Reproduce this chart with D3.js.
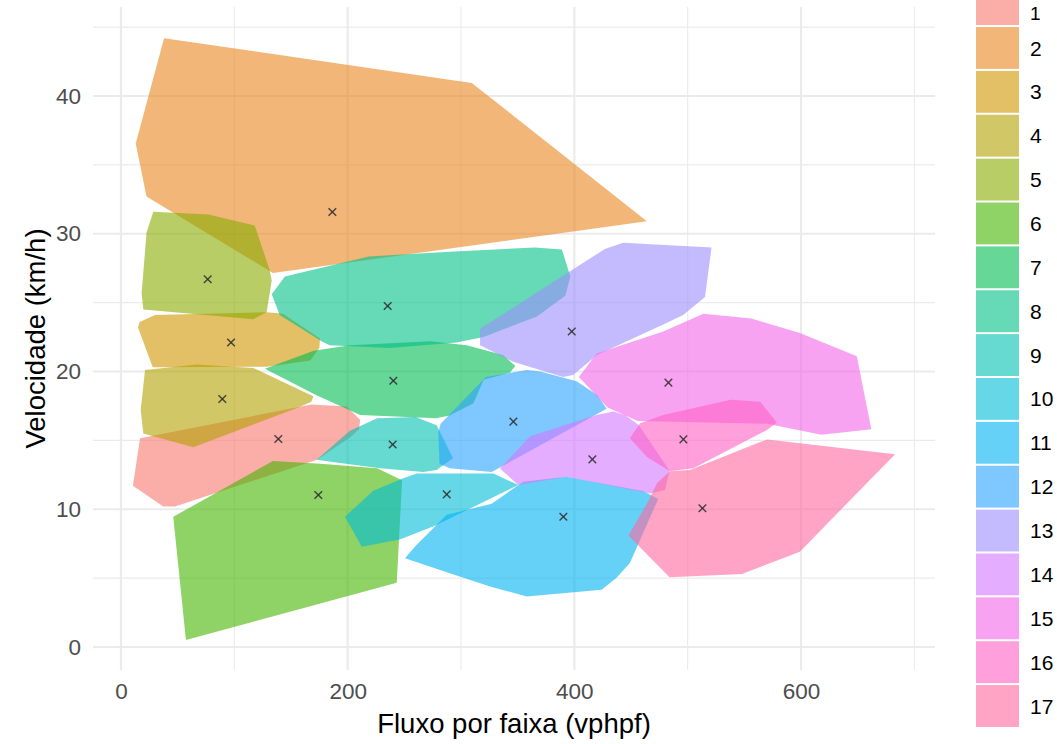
<!DOCTYPE html>
<html>
<head>
<meta charset="utf-8">
<script src="https://cdn.jsdelivr.net/npm/d3@7"></script>
<style>
  html, body { margin: 0; padding: 0; background: #ffffff; }
  svg { display: block; font-family: "Liberation Sans", Arial, Helvetica, sans-serif; }
</style>
</head>
<body>
<svg id="chart" width="1057" height="744"></svg>
<script>
// Cluster labels
const clusters = ["1","2","3","4","5","6","7","8","9","10","11","12","13","14","15","16","17"];

// Convex hull vertices for each cluster: [fluxo (vphpf), velocidade (km/h)]
const hull_1  = [[16.8,15.15],[168,17.6],[199,17.45],[211,16.5],[210,15.8],[202,15.2],[173,13.6],[47.6,10.2],[37.3,10.2],[10.5,11.7]];
const hull_2  = [[38,44.2],[309.5,40.95],[464,30.9],[134,27.15],[22.5,32.7],[13,36.55]];
const hull_3  = [[16.5,23.6],[30,24.1],[128.5,24.3],[143,24.2],[175.6,22.4],[175,21.7],[167,20.8],[128.5,20.35],[28,20.3],[15,23.2]];
const hull_4  = [[21.2,20.1],[66.8,20.5],[116.8,20.25],[169.7,18.2],[168,17.8],[157,17.4],[63.8,14.5],[19.7,15.5],[17.4,17.2]];
const hull_5  = [[28.5,31.6],[77,31.4],[118,30.6],[131,27.4],[133,26.6],[128.5,24.3],[116.8,23.8],[19.7,24.5],[18.2,25.7],[22.6,30.1]];
const hull_6  = [[46.1,9.45],[134,13.5],[176,13.3],[226,12.97],[248,12.1],[243.3,4.67],[57.3,0.5]];
const hull_7  = [[127,20.2],[170,21.5],[202,21.9],[273,22.2],[305,21.9],[337,21.2],[348,20.4],[343,19.9],[320,19.4],[311,17.7],[290,16.8],[278,16.6],[211,16.85],[172,18.3]];
const hull_8  = [[133,25.6],[144.6,26.9],[218.5,28.35],[290,28.7],[365,29.0],[389,28.85],[396.5,26.9],[392,25.5],[367,24],[320,22.5],[296,22.1],[237,21.7],[184,21.9],[177,22.2],[140,24.1]];
const hull_9  = [[172.6,13.6],[202,15.7],[226,16.6],[260,16.7],[278.5,16.1],[293,13.7],[278.5,12.85],[266.7,12.7],[228.5,12.97],[190,13.4]];
const hull_10 = [[197.6,9.45],[222.6,11.35],[249,12.25],[261,12.6],[328.5,12.6],[350.6,11.76],[277,8.8],[246,7.8],[212.4,7.28]];
const hull_11 = [[250.6,6.44],[259.4,7.3],[287.4,9.6],[327,10.4],[355,12.0],[393,12.35],[461,11.3],[474,10.75],[449,6.1],[437,5.0],[424,4.15],[358,3.66],[325.6,4.4],[290,5.35]];
const hull_12 = [[282,16.2],[322,19.6],[358,20.1],[370,20.0],[402,19.3],[420,18.3],[428.5,17.3],[327,12.7],[290,12.97],[281,13.3],[280,15.6]];
const hull_13 = [[316.8,23.1],[427,28.9],[443,29.35],[521,29.0],[515.3,25.4],[496,24.1],[478,23.4],[420,21.2],[399,19.75],[390,19.6],[346,20.7],[316.8,21.9]];
const hull_14 = [[334.4,12.96],[361,15.3],[419.7,16.84],[434.4,17.1],[444.7,16.84],[457,16.1],[484,12.8],[480,11.4],[466.8,11.15],[393,12.36],[350.6,11.76]];
const hull_15 = [[404,19.6],[419.7,21.3],[478.5,22.9],[513.8,24.2],[556,23.85],[599,22.8],[649.2,21.1],[662,15.8],[618,15.4],[570,16.2],[456,16.4],[429,17.4]];
const hull_16 = [[449,15.15],[458,16.24],[478.5,16.84],[538,17.95],[564,17.8],[578.6,16.3],[570,15.75],[505,12.97],[484.4,12.75],[464,13.8]];
const hull_17 = [[447.7,8.1],[464,10.4],[473,11.9],[484.4,12.75],[502,12.85],[570,15.07],[683,14.0],[599,6.92],[548,5.3],[484,5.06]];

// Cluster centres
const centroidFluxo      = [138.8,186.5,97.1,89.4,76.5,174.1,240.3,235.3,239.7,287.4,390.3,346.2,397.7,415.9,483,496.2,513];
const centroidVelocidade = [15.1,31.58,22.1,18.0,26.7,11.03,19.33,24.75,14.7,11.08,9.46,16.36,22.9,13.62,19.19,15.07,10.07];

// Axis ticks
const xTicks = [0, 200, 400, 600];
const yTicks = [0, 10, 20, 30, 40];
const xMinor = [100, 300, 500, 700];
const yMinor = [5, 15, 25, 35, 45];

const hulls = [hull_1,hull_2,hull_3,hull_4,hull_5,hull_6,hull_7,hull_8,hull_9,hull_10,hull_11,hull_12,hull_13,hull_14,hull_15,hull_16,hull_17];

// Polar LUV -> sRGB, same construction as the usual default hue palette
function hclLuv(h, c, l) {
  const Xn = 95.047, Yn = 100, Zn = 108.883;
  const hr = h * Math.PI / 180;
  const U = c * Math.cos(hr), V = c * Math.sin(hr);
  const Y = l > 7.999592 ? Yn * Math.pow((l + 16) / 116, 3) : Yn * l / 903.3;
  const den = Xn + 15 * Yn + 3 * Zn;
  const un = 4 * Xn / den, vn = 9 * Yn / den;
  const u = U / (13 * l) + un, v = V / (13 * l) + vn;
  const X = 9 * Y * u / (4 * v);
  const Z = -X / 3 - 5 * Y + 3 * Y / v;
  const x = X / 100, y = Y / 100, z = Z / 100;
  const lin = [
    3.240479 * x - 1.537150 * y - 0.498535 * z,
   -0.969256 * x + 1.875992 * y + 0.041556 * z,
    0.055648 * x - 0.204043 * y + 1.057311 * z
  ];
  const g = t => {
    const s = t <= 0.0031308 ? 12.92 * t : 1.055 * Math.pow(t, 1 / 2.4) - 0.055;
    return Math.round(255 * Math.max(0, Math.min(1, s)));
  };
  return d3.rgb(g(lin[0]), g(lin[1]), g(lin[2])).formatHex();
}
const n = clusters.length;
const palette = clusters.map((d, i) => hclLuv(15 + 360 * i / n, 100, 65));
const color = d3.scaleOrdinal().domain(clusters).range(palette);
const fillAlpha = 0.6;

const svg = d3.select("#chart");
const panel = { left: 93, right: 935, top: 7, bottom: 670 };

const x = d3.scaleLinear().domain([-24.7, 718.2]).range([panel.left, panel.right]);
const y = d3.scaleLinear().domain([-1.67, 46.46]).range([panel.bottom, panel.top]);

// Grid
const grid = svg.append("g");
grid.selectAll(".xminor").data(xMinor).join("line")
  .attr("x1", d => x(d)).attr("x2", d => x(d))
  .attr("y1", panel.top).attr("y2", panel.bottom)
  .attr("stroke", "#ebebeb").attr("stroke-width", 1.1);
grid.selectAll(".yminor").data(yMinor).join("line")
  .attr("y1", d => y(d)).attr("y2", d => y(d))
  .attr("x1", panel.left).attr("x2", panel.right)
  .attr("stroke", "#ebebeb").attr("stroke-width", 1.1);
grid.selectAll(".xmajor").data(xTicks).join("line")
  .attr("x1", d => x(d)).attr("x2", d => x(d))
  .attr("y1", panel.top).attr("y2", panel.bottom)
  .attr("stroke", "#ebebeb").attr("stroke-width", 2.2);
grid.selectAll(".ymajor").data(yTicks).join("line")
  .attr("y1", d => y(d)).attr("y2", d => y(d))
  .attr("x1", panel.left).attr("x2", panel.right)
  .attr("stroke", "#ebebeb").attr("stroke-width", 2.2);

// Cluster hulls
const line = d3.line().x(d => x(d[0])).y(d => y(d[1])).curve(d3.curveLinearClosed);
svg.append("g").selectAll("path").data(hulls).join("path")
  .attr("d", d => line(d))
  .attr("fill", (d, i) => color(clusters[i]))
  .attr("fill-opacity", fillAlpha);

// Centres (x-shaped markers)
const cs = 3.8;
const cross = svg.append("g").selectAll("g").data(clusters).join("g")
  .attr("transform", (d, i) => `translate(${x(centroidFluxo[i])},${y(centroidVelocidade[i])})`);
cross.append("line").attr("x1", -cs).attr("y1", -cs).attr("x2", cs).attr("y2", cs);
cross.append("line").attr("x1", -cs).attr("y1", cs).attr("x2", cs).attr("y2", -cs);
cross.selectAll("line").attr("stroke", "#333333").attr("stroke-width", 1.4).attr("stroke-opacity", 0.9);

// Axes
const xAxis = svg.append("g").attr("transform", `translate(0,${panel.bottom})`)
  .call(d3.axisBottom(x).tickValues(xTicks).tickSize(0).tickPadding(13));
const yAxis = svg.append("g").attr("transform", `translate(${panel.left},0)`)
  .call(d3.axisLeft(y).tickValues(yTicks).tickSize(0).tickPadding(12));
[xAxis, yAxis].forEach(a => {
  a.select(".domain").remove();
  a.selectAll("text").attr("fill", "#4d4d4d").style("font-size", "22.5px")
    .style("font-family", "'Liberation Sans', Arial, sans-serif");
});

svg.append("text")
  .attr("x", (panel.left + panel.right) / 2).attr("y", 733)
  .attr("text-anchor", "middle").attr("fill", "#000")
  .style("font-size", "27.5px")
  .text("Fluxo por faixa (vphpf)");

svg.append("text")
  .attr("transform", `translate(45,${(panel.top + panel.bottom) / 2}) rotate(-90)`)
  .attr("text-anchor", "middle").attr("fill", "#000")
  .style("font-size", "27.5px")
  .text("Velocidade (km/h)");

// Legend
const keyStep = 43.87, keyTop0 = 4.1;
const legend = svg.append("g").selectAll("g").data(clusters).join("g")
  .attr("transform", (d, i) => `translate(976,${keyTop0 + i * keyStep})`);
legend.append("rect")
  .attr("x", 0).attr("y", -keyStep / 2 + 1).attr("width", 43).attr("height", keyStep - 2)
  .attr("fill", d => color(d)).attr("fill-opacity", fillAlpha);
// first label kept inside the top edge of the canvas
legend.append("text")
  .attr("x", 54).attr("y", (d, i) => i === 0 ? 9 : 0).attr("dy", "0.36em")
  .attr("fill", "#000").style("font-size", (d, i) => i === 0 ? "19px" : "21px")
  .text(d => d);
</script>
</body>
</html>
